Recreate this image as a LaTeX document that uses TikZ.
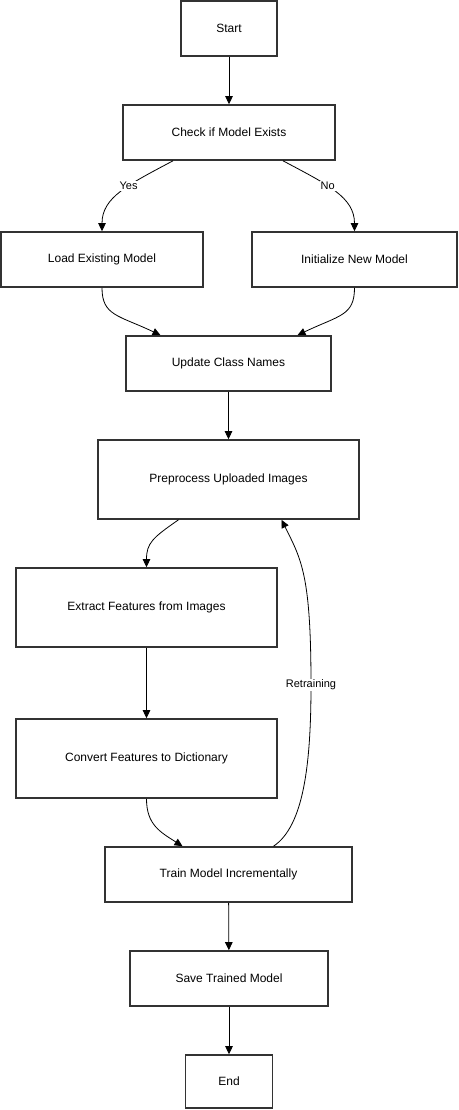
\documentclass[tikz,border=0pt]{standalone}
\usepackage{fontspec}
\setmainfont{Liberation Sans}
\usetikzlibrary{arrows.meta}
\definecolor{boxline}{RGB}{51,51,51}
\tikzset{
  box_/.style = {shape=rectangle, draw=boxline, line width=1.6pt, align=center,
                 inner sep=0pt, font=\fontsize{12}{14}\selectfont},
  lbl_/.style = {fill=white, inner sep=1pt, font=\fontsize{11}{13}\selectfont}
}

\begin{document}
\begin{tikzpicture}
	[
	x = 1pt, y = -1pt,
	edge_/.style = {draw, line width=0.8pt, -{Triangle[length=8pt,width=7.5pt]}}
	]
	\useasboundingbox (0,0) rectangle (458,1110);
	% steps
	\node [box_, minimum width=96pt,  minimum height=55pt] (start) at (229,28.5) {Start};
	\node [box_, minimum width=212pt, minimum height=55pt] (chk)   at (229,132.5) {Check if Model Exists};
	\node [box_, minimum width=202pt, minimum height=55pt] (load)  at (102,259.5) {Load Existing Model};
	\node [box_, minimum width=205pt, minimum height=55pt] (init)  at (354.5,259.5) {Initialize New Model};
	\node [box_, minimum width=205pt, minimum height=55pt] (upd)   at (228.5,363.5) {Update Class Names};
	\node [box_, minimum width=261pt, minimum height=79pt] (pre)   at (228.5,479.5) {Preprocess Uploaded Images};
	\node [box_, minimum width=261pt, minimum height=79pt] (ext)   at (146.5,607.5) {Extract Features from Images};
	\node [box_, minimum width=261pt, minimum height=79pt] (conv)  at (146.5,758.5) {Convert Features to Dictionary};
	\node [box_, minimum width=247pt, minimum height=55pt] (train) at (228.5,874.5) {Train Model Incrementally};
	\node [box_, minimum width=198pt, minimum height=55pt] (save)  at (229,978.5) {Save Trained Model};
	\node [box_, minimum width=87pt,  minimum height=53pt] (end)   at (229,1081.5) {End};
	\coordinate (rt) at (311,685);
	% connectors
	\draw [edge_] (start) -- (chk);
	\draw [edge_] ([xshift=-56]chk.south) .. controls +(-45,24) and +(0,-34) .. (load.north)
		node [lbl_, pos=0.4] {Yes};
	\draw [edge_] ([xshift=54]chk.south) .. controls +(45,24) and +(0,-34) .. (init.north)
		node [lbl_, pos=0.4] {No};
	\draw [edge_] (load.south) .. controls +(0,28) and +(-42,-20) .. ([xshift=-68]upd.north);
	\draw [edge_] (init.south) .. controls +(0,28) and +(42,-20) .. ([xshift=69]upd.north);
	\draw [edge_] (upd) -- (pre);
	\draw [edge_] ([xshift=-50]pre.south) .. controls +(-26,18) and +(0,-24) .. (ext.north);
	\draw [edge_] (ext) -- (conv);
	\draw [edge_] (conv.south) .. controls +(0,26) and +(-22,-14) .. ([xshift=-46]train.north);
	\draw [edge_] ([xshift=45]train.north) .. controls +(30,-20) and +(0,80) .. (rt)
		node [lbl_] {Retraining}
		.. controls +(0,-110) and +(20,40) .. ([xshift=53]pre.south);
	\draw [edge_] (train) -- (save);
	\draw [edge_] (save) -- (end);
\end{tikzpicture}
\end{document}
